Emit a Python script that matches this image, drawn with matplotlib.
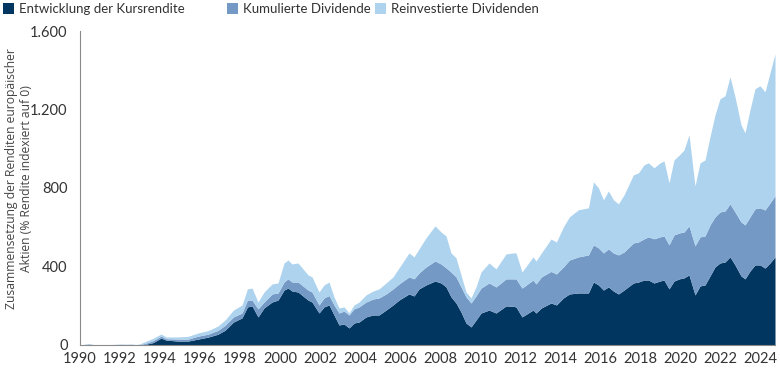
import matplotlib
matplotlib.use("Agg")
import matplotlib.pyplot as plt
from matplotlib.patches import Patch
from matplotlib.ticker import FuncFormatter
import numpy as np

# Decimal years of the observations
jahre = [1990.0, 1990.25, 1990.45, 1990.7, 1991.0, 1991.5, 1992.0, 1992.3, 1992.6, 1992.8,
         1993.0, 1993.25, 1993.65, 1994.05, 1994.3, 1994.9, 1995.4, 1995.9, 1996.4, 1996.9,
         1997.25, 1997.67, 1998.1, 1998.37, 1998.6, 1998.9, 1999.2, 1999.6, 1999.9, 2000.2,
         2000.4, 2000.6, 2000.9, 2001.4, 2001.6, 2001.95, 2002.2, 2002.45, 2002.7, 2002.95,
         2003.2, 2003.45, 2003.7, 2003.95, 2004.3, 2004.65, 2004.95, 2005.3, 2005.65, 2005.95,
         2006.45, 2006.7, 2006.95, 2007.3, 2007.75, 2008.05, 2008.3, 2008.55, 2008.8, 2009.05,
         2009.3, 2009.55, 2009.8, 2010.05, 2010.45, 2010.8, 2011.3, 2011.65, 2011.8, 2012.1,
         2012.65, 2012.8, 2013.07, 2013.55, 2013.82, 2014.17, 2014.47, 2014.92, 2015.42, 2015.67,
         2015.92, 2016.17, 2016.42, 2016.67, 2016.92, 2017.2, 2017.67, 2017.92, 2018.2, 2018.42,
         2018.7, 2019.0, 2019.2, 2019.45, 2019.7, 2019.97, 2020.2, 2020.45, 2020.75, 2021.0,
         2021.25, 2021.5, 2021.75, 2022.0, 2022.25, 2022.5, 2022.75, 2023.05, 2023.25, 2023.5,
         2023.75, 2024.0, 2024.25, 2024.5, 2024.75]

# Price return (level of the dark area)
kursrendite = [0, 2, 3, 0, 0, 0, 1, 1, 1, 0,
               1, 3, 12, 35, 25, 20, 20, 30, 40, 55,
               75, 117, 138, 194, 199, 143, 189, 219, 229, 280,
               290, 275, 270, 229, 219, 163, 194, 204, 153, 102,
               107, 87, 112, 117, 143, 153, 153, 178, 204, 229,
               260, 250, 286, 306, 326, 316, 296, 245, 214, 168,
               112, 92, 127, 163, 178, 163, 199, 197, 194, 143,
               178, 163, 189, 214, 204, 240, 260, 265, 265, 321,
               306, 280, 296, 275, 260, 280, 316, 321, 331, 331,
               316, 326, 331, 286, 326, 337, 342, 357, 255, 301,
               306, 352, 398, 418, 423, 449, 408, 352, 337, 377,
               408, 408, 392, 418, 449]

# Price return + cumulative dividends (top of the middle area)
mit_dividende = [0, 3, 5, 1, 1, 1, 3, 3, 3, 1,
                 3, 8, 22, 45, 32, 30, 30, 45, 55, 75,
                 100, 143, 163, 229, 229, 184, 219, 260, 265, 321,
                 337, 321, 321, 280, 270, 204, 240, 252, 204, 163,
                 173, 153, 184, 194, 219, 234, 240, 260, 286, 311,
                 347, 337, 367, 398, 428, 413, 393, 372, 347, 296,
                 245, 214, 250, 290, 316, 296, 337, 337, 337, 290,
                 331, 311, 347, 375, 362, 398, 433, 449, 459, 510,
                 495, 469, 490, 469, 459, 474, 520, 525, 541, 551,
                 541, 551, 556, 510, 561, 571, 576, 607, 505, 551,
                 556, 612, 653, 678, 683, 719, 678, 627, 612, 653,
                 694, 699, 688, 724, 760]

# Total return with reinvested dividends (top of the light area)
gesamtrendite = [0, 4, 7, 2, 1, 2, 5, 4, 5, 2,
                 6, 17, 34, 56, 41, 41, 44, 61, 73, 97,
                 127, 178, 204, 286, 290, 219, 270, 311, 316, 418,
                 433, 413, 418, 357, 347, 270, 306, 321, 245, 189,
                 194, 163, 204, 219, 255, 275, 286, 316, 347, 393,
                 469, 449, 490, 546, 607, 576, 556, 469, 444, 357,
                 270, 240, 296, 372, 418, 388, 464, 469, 469, 372,
                 449, 428, 469, 540, 525, 602, 653, 689, 699, 831,
                 801, 740, 785, 740, 719, 765, 867, 877, 918, 928,
                 903, 928, 938, 826, 943, 969, 994, 1071, 811, 928,
                 943, 1061, 1173, 1255, 1270, 1367, 1265, 1122, 1081, 1199,
                 1306, 1321, 1290, 1387, 1484]

serien = ["Entwicklung der Kursrendite", "Kumulierte Dividende", "Reinvestierte Dividenden"]
farben = ["#00365F", "#7499C5", "#AED3EF"]
x_ticks = list(range(1990, 2025, 2))
y_ticks = [0, 400, 800, 1200, 1600]

plt.rcParams['font.family'] = ['Lato', 'DejaVu Sans']
txt = "#333333"
W, H = 780, 370

fig = plt.figure(figsize=(7.8, 3.7), dpi=100)
ax = fig.add_axes([0.1026, 0.0676, 0.8910, 0.8486])

x = np.array(jahre)
k = np.array(kursrendite)
m = np.array(mit_dividende)
g = np.array(gesamtrendite)
ax.fill_between(x, 0, k, color=farben[0], lw=0)
ax.fill_between(x, k, m, color=farben[1], lw=0)
ax.fill_between(x, m, g, color=farben[2], lw=0)

ax.set_xlim(1990, 2024.75)
ax.set_ylim(0, 1600)
ax.set_xticks(x_ticks)
ax.set_yticks(y_ticks)
ax.yaxis.set_major_formatter(FuncFormatter(lambda v, p: f"{int(v):,}".replace(",", ".")))
ax.tick_params(axis='both', length=0, labelsize=10.5, colors=txt)
ax.tick_params(axis='x', pad=5)
ax.tick_params(axis='y', pad=9)
for s in ["top", "right"]:
    ax.spines[s].set_visible(False)
for s in ["left", "bottom"]:
    ax.spines[s].set_color("#8A8A8A")
    ax.spines[s].set_linewidth(0.8)

fig.text(19 / W, 1 - 179 / H,
         "Zusammensetzung der Renditen europäischer\nAktien (% Rendite indexiert auf 0)",
         rotation=90, ha='center', va='center', multialignment='center',
         fontsize=8.7, color="#444444", family=['Open Sans', 'DejaVu Sans'], linespacing=1.15)

legend_x = [3, 227, 375]
for lx, lab, c in zip(legend_x, serien, farben):
    fig.legend([Patch(facecolor=c, edgecolor='none')], [lab], loc='upper left',
               bbox_to_anchor=(lx / W, 1 - 3 / H), frameon=False, fontsize=9.5,
               handlelength=0.85, handleheight=0.85, handletextpad=0.35,
               borderpad=0, borderaxespad=0, labelcolor=txt)

fig.savefig("out.png", dpi=100)
